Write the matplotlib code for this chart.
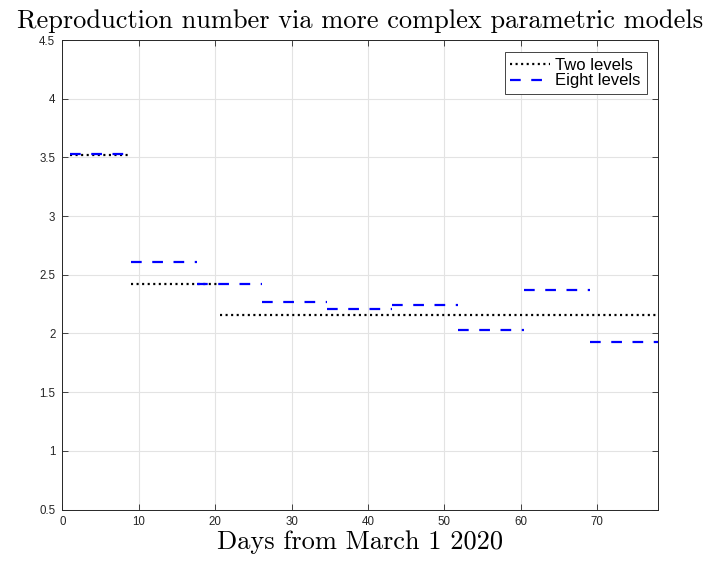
import numpy as np
import matplotlib
matplotlib.use("Agg")
import matplotlib.pyplot as plt

plt.rcParams['lines.scale_dashes'] = False

# Data: piecewise-constant reproduction numbers
two_breaks = [1, 9, 20.6, 78]
two_values = [3.52, 2.42, 2.16]

eight_breaks = [1, 9, 17.6, 26.1, 34.7, 43.2, 51.8, 60.4, 69.0, 78]
eight_values = [3.53, 2.61, 2.42, 2.27, 2.21, 2.24, 2.03, 2.37, 1.93]

xticks = [0, 10, 20, 30, 40, 50, 60, 70]
yticks = [0.5, 1, 1.5, 2, 2.5, 3, 3.5, 4, 4.5]
ytick_labels = ["0.5", "1", "1.5", "2", "2.5", "3", "3.5", "4", "4.5"]


def segments(breaks, values):
    xs, ys = [], []
    for i, v in enumerate(values):
        xs += [breaks[i], breaks[i + 1], np.nan]
        ys += [v, v, np.nan]
    return xs, ys


fig = plt.figure(figsize=(7.12, 5.62), dpi=100)
ax = fig.add_axes([62.3 / 712, 1 - 509.5 / 562, (658.3 - 62.3) / 712, (509.5 - 40) / 562])

x2, y2 = segments(two_breaks, two_values)
x8, y8 = segments(eight_breaks, eight_values)
ax.plot(x2, y2, color='black', lw=1.6, dashes=(1.5, 2.5), label='Two levels', zorder=3)
ax.plot(x8, y8, color='#0000ff', lw=1.6, dashes=(7.7, 7.6), label='Eight levels', zorder=4)

ax.set_xlim(0, 78)
ax.set_ylim(0.5, 4.5)
ax.set_xticks(xticks)
ax.set_xticklabels([str(t) for t in xticks])
ax.set_yticks(yticks)
ax.set_yticklabels(ytick_labels)

tick_font = 'Liberation Sans'
for lab in ax.get_xticklabels() + ax.get_yticklabels():
    lab.set_fontfamily(tick_font)
    lab.set_fontsize(8.3)

ax.tick_params(direction='in', length=4, width=0.6, top=True, right=True,
               colors='#262626', pad=5)
ax.grid(True, color='#e3e3e3', lw=0.8, zorder=0)
ax.set_axisbelow(True)
for s in ax.spines.values():
    s.set_color('#262626')
    s.set_linewidth(0.7)

ax.set_title('Reproduction number via more complex parametric models',
             fontfamily='cmr10', fontsize=19, pad=8.5)
ax.set_xlabel('Days from March 1 2020', fontfamily='cmr10', fontsize=19, labelpad=1)

leg = ax.legend(loc='upper right', prop={'family': tick_font, 'size': 12},
                handlelength=2.4, handletextpad=0.3, borderpad=0.35,
                labelspacing=0.05, fancybox=False, framealpha=1,
                edgecolor='#262626', borderaxespad=0.7)
leg.get_frame().set_linewidth(0.6)

fig.savefig('out.png', dpi=100)
